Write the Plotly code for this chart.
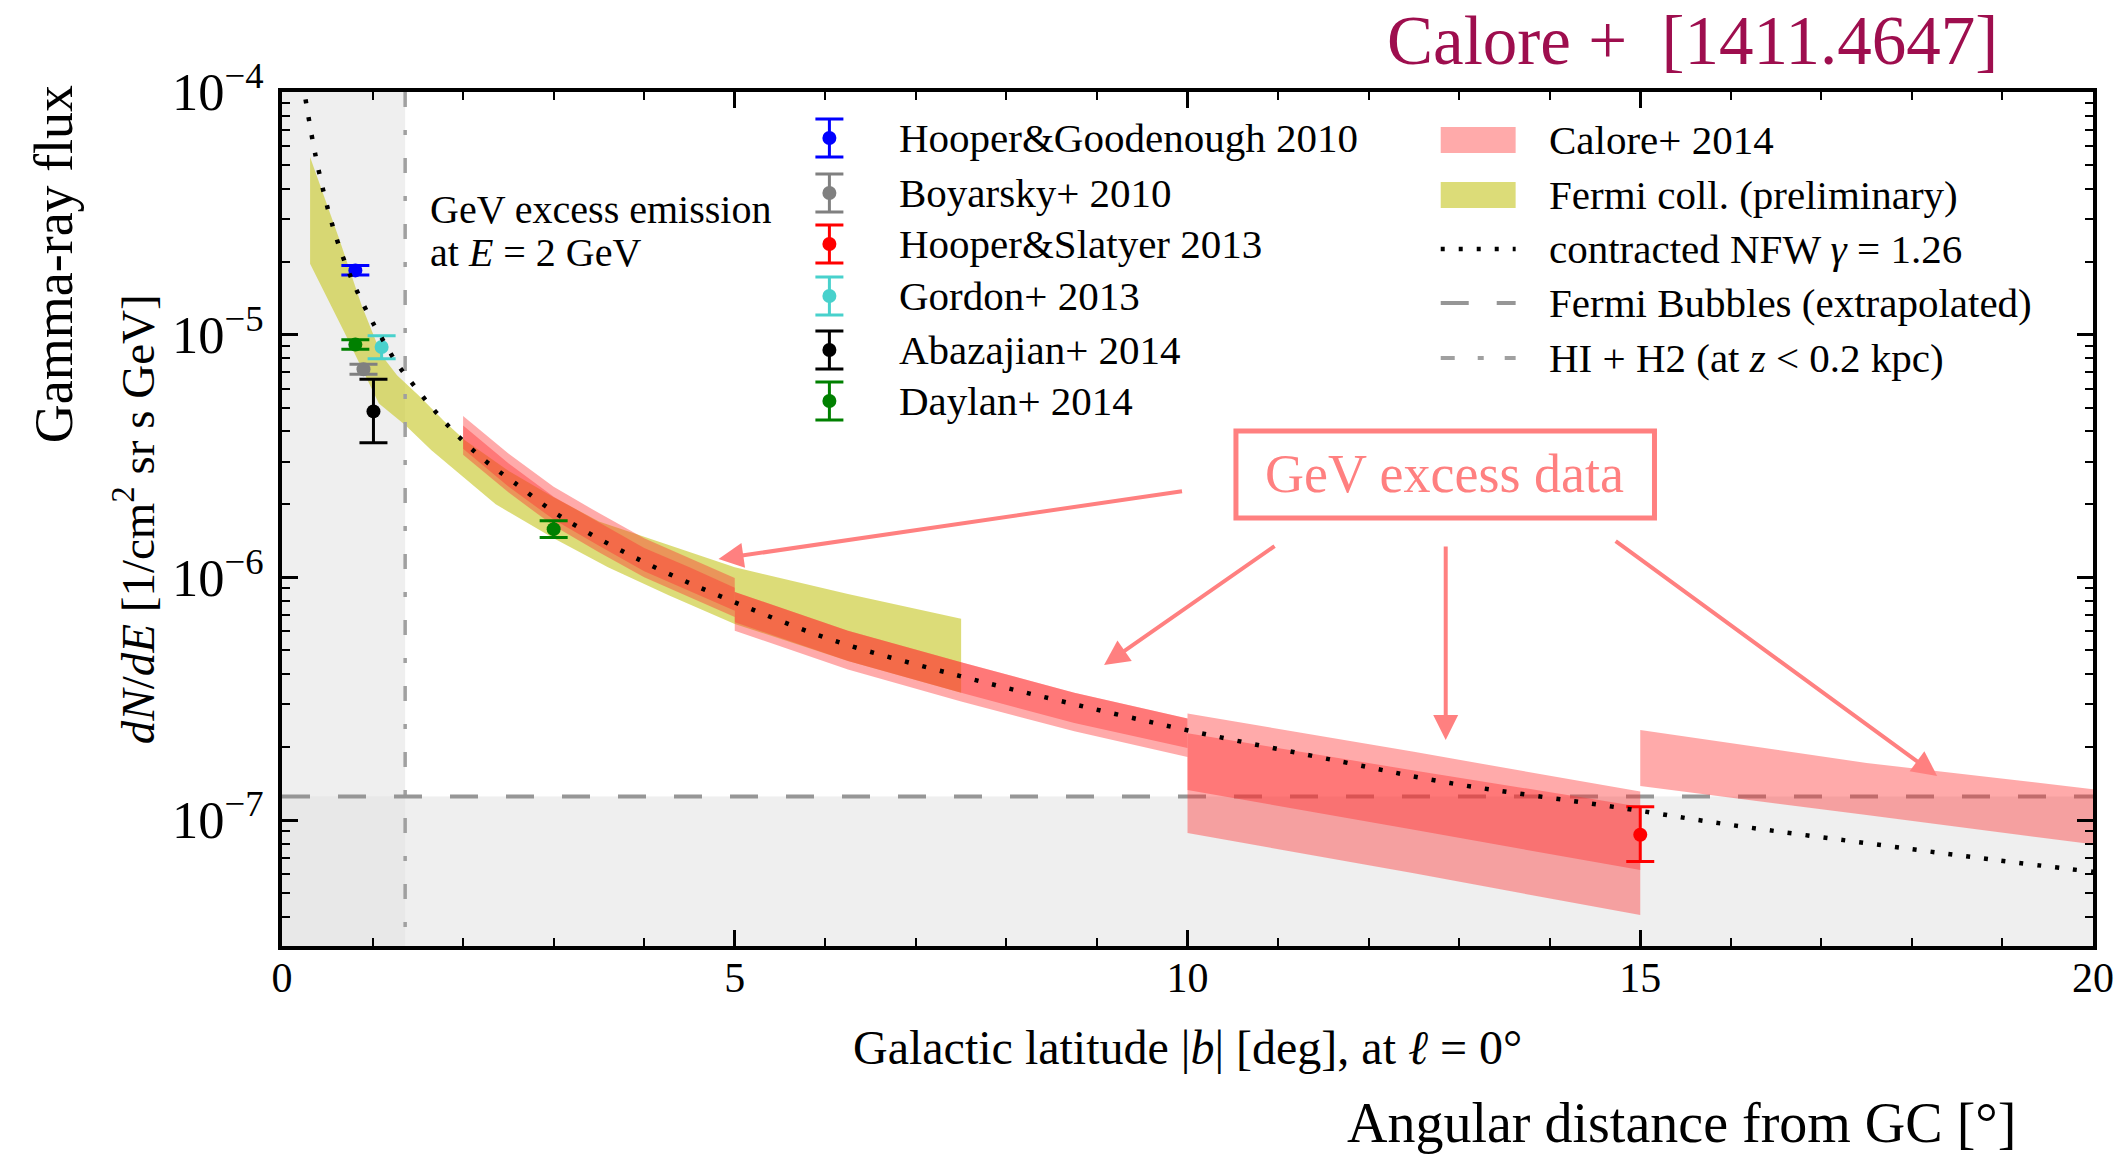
import plotly.graph_objects as go

# ---------------------------------------------------------------------------
# Data: GeV-excess latitude profile at E = 2 GeV (l = 0)
# ---------------------------------------------------------------------------

# contracted NFW profile, gamma = 1.26
nfw_lat = [0.26, 0.37, 0.51, 0.63, 0.78, 0.96, 1.06, 1.27, 1.39, 1.65, 1.93, 2.24,
           2.57, 3.08, 3.99, 4.95, 6.09, 7.49, 8.70, 10.1, 11.7, 12.9, 14.8, 16.0,
           17.7, 18.9, 20.0]
nfw_flux = [9.33e-5, 5.48e-5, 3.26e-5, 2.32e-5, 1.66e-5, 1.20e-5, 1.03e-5, 7.60e-6,
            6.64e-6, 5.04e-6, 3.87e-6, 3.03e-6, 2.45e-6, 1.78e-6, 1.16e-6, 8.04e-7,
            5.50e-7, 3.92e-7, 3.03e-7, 2.30e-7, 1.74e-7, 1.42e-7, 1.12e-7, 9.55e-8,
            7.85e-8, 6.86e-8, 6.12e-8]

# Fermi collaboration (preliminary) band
fermi_hi_lat = [0.31, 0.63, 0.88, 1.10, 1.27, 1.51, 1.80, 2.02, 2.5, 3.0, 3.5, 4.27,
                5.0, 6.25, 7.5]
fermi_hi = [5.40e-5, 2.49e-5, 1.32e-5, 8.22e-6, 6.81e-6, 5.62e-6, 4.37e-6, 3.67e-6,
            2.75e-6, 2.14e-6, 1.70e-6, 1.36e-6, 1.10e-6, 8.55e-7, 6.75e-7]
fermi_lo_lat = [0.31, 0.69, 1.07, 1.36, 1.65, 2.02, 2.36, 3.0, 3.6, 4.27, 5.0, 6.25, 7.5]
fermi_lo = [1.96e-5, 1.02e-5, 5.20e-6, 4.24e-6, 3.34e-6, 2.55e-6, 2.00e-6, 1.45e-6,
            1.10e-6, 8.43e-7, 6.43e-7, 4.52e-7, 3.35e-7]

# Calore+ 2014: two overlapping bands per latitude window
cal_2_5_lat = [2.0, 2.5, 3.0, 3.5, 4.0, 4.5, 5.0]
cal_2_5_n_hi = [4.62e-6, 3.24e-6, 2.36e-6, 1.84e-6, 1.45e-6, 1.20e-6, 9.93e-7]
cal_2_5_n_lo = [3.39e-6, 2.37e-6, 1.73e-6, 1.35e-6, 1.06e-6, 8.81e-7, 7.28e-7]
cal_2_5_s_hi = [4.22e-6, 2.95e-6, 2.15e-6, 1.68e-6, 1.32e-6, 1.10e-6, 9.06e-7]
cal_2_5_s_lo = [3.20e-6, 2.24e-6, 1.63e-6, 1.27e-6, 1.00e-6, 8.32e-7, 6.87e-7]

cal_5_10_lat = [5.0, 6.25, 7.5, 8.75, 10.0]
cal_5_10_n_hi = [8.71e-7, 6.03e-7, 4.47e-7, 3.35e-7, 2.62e-7]
cal_5_10_n_lo = [6.53e-7, 4.52e-7, 3.35e-7, 2.51e-7, 1.98e-7]
cal_5_10_s_hi = [8.71e-7, 6.03e-7, 4.47e-7, 3.35e-7, 2.62e-7]
cal_5_10_s_lo = [6.03e-7, 4.17e-7, 3.08e-7, 2.32e-7, 1.82e-7]

cal_10_15_lat = [10.0, 12.5, 15.0]
cal_10_15_n_hi = [2.75e-7, 1.91e-7, 1.31e-7]
cal_10_15_n_lo = [1.33e-7, 9.12e-8, 6.22e-8]
cal_10_15_s_hi = [2.28e-7, 1.60e-7, 1.135e-7]
cal_10_15_s_lo = [8.85e-8, 6.03e-8, 4.06e-8]

cal_15_20_lat = [15.0, 17.5, 20.0]
cal_15_20_hi = [2.35e-7, 1.72e-7, 1.34e-7]
cal_15_20_lo = [1.38e-7, 1.05e-7, 7.94e-8]

# Literature measurements (value, upper error, lower error)
hg10_lat, hg10_flux, hg10_up, hg10_dn = [0.81], [1.84e-5], [0.09e-5], [0.08e-5]
boy10_lat, boy10_flux, boy10_up, boy10_dn = [0.90], [7.2e-6], [0.35e-6], [0.33e-6]
hs13_lat, hs13_flux, hs13_up, hs13_dn = [15.0], [8.7e-8], [2.65e-8], [1.95e-8]
gor13_lat, gor13_flux, gor13_up, gor13_dn = [1.10], [8.9e-6], [1.0e-6], [0.94e-6]
aba14_lat, aba14_flux, aba14_up, aba14_dn = [1.01], [4.83e-6], [1.72e-6], [1.24e-6]
day14_lat, day14_flux, day14_up, day14_dn = [0.81, 3.0], [9.1e-6, 1.58e-6], [0.42e-6, 0.13e-6], [0.40e-6, 0.12e-6]

# Fermi Bubbles (extrapolated) level and HI + H2 latitude boundary
bubbles_flux = 1.25e-7
gas_lat = 1.36

x_range = [0, 20]
y_range_log = [-7.519, -4]

# ---------------------------------------------------------------------------
# Styling
# ---------------------------------------------------------------------------
W, H = 2126, 1156
L, R, T, B = 282, 2095, 92, 946
FONT = "Liberation Serif, Times New Roman, serif"
SALMON = "rgb(255,128,128)"
RED_FILL = "rgba(255,49,49,0.41)"
YELLOW_FILL = "rgba(205,205,63,0.70)"
GRAY_FILL = "rgba(227,227,227,0.5625)"
DOT = "4px,14px"
DASH = "28px,28px"
DASHDOT = "15px,23px,5px,23px"


def px(X, Y):
    """pixel position on the page -> paper coordinates"""
    return (X - L) / (R - L), (B - Y) / (B - T)


def band(lat_hi, hi, lat_lo, lo, color):
    return go.Scatter(x=list(lat_hi) + list(lat_lo)[::-1], y=list(hi) + list(lo)[::-1],
                      fill="toself", fillcolor=color, mode="lines", line=dict(width=0),
                      hoverinfo="skip")


fig = go.Figure()

# shaded regions: HI+H2 dominated latitudes, and below the Fermi Bubbles level
fig.add_trace(go.Scatter(x=[0, gas_lat, gas_lat, 0], y=[1e-9, 1e-9, 1e-3, 1e-3],
                         fill="toself", fillcolor=GRAY_FILL, mode="lines", line=dict(width=0)))
fig.add_trace(go.Scatter(x=[0, 20, 20, 0], y=[1e-9, 1e-9, bubbles_flux, bubbles_flux],
                         fill="toself", fillcolor=GRAY_FILL, mode="lines", line=dict(width=0)))

# Fermi coll. band
fig.add_trace(band(fermi_hi_lat, fermi_hi, fermi_lo_lat, fermi_lo, YELLOW_FILL))

# HI + H2 boundary and Fermi Bubbles level
fig.add_trace(go.Scatter(x=[gas_lat, gas_lat], y=[1e-4, 3.03e-8], mode="lines",
                         line=dict(color="rgb(160,160,160)", width=3.5, dash=DASHDOT)))
fig.add_trace(go.Scatter(x=[0, 20], y=[bubbles_flux, bubbles_flux], mode="lines",
                         line=dict(color="rgb(150,150,150)", width=4, dash=DASH)))

# Calore+ 2014 bands
fig.add_trace(band(cal_2_5_lat, cal_2_5_n_hi, cal_2_5_lat, cal_2_5_n_lo, RED_FILL))
fig.add_trace(band(cal_2_5_lat, cal_2_5_s_hi, cal_2_5_lat, cal_2_5_s_lo, RED_FILL))
fig.add_trace(band(cal_5_10_lat, cal_5_10_n_hi, cal_5_10_lat, cal_5_10_n_lo, RED_FILL))
fig.add_trace(band(cal_5_10_lat, cal_5_10_s_hi, cal_5_10_lat, cal_5_10_s_lo, RED_FILL))
fig.add_trace(band(cal_10_15_lat, cal_10_15_n_hi, cal_10_15_lat, cal_10_15_n_lo, RED_FILL))
fig.add_trace(band(cal_10_15_lat, cal_10_15_s_hi, cal_10_15_lat, cal_10_15_s_lo, RED_FILL))
fig.add_trace(band(cal_15_20_lat, cal_15_20_hi, cal_15_20_lat, cal_15_20_lo, RED_FILL))

# measurements
points = [
    ("Hooper&amp;Goodenough 2010", "#0000ff", hg10_lat, hg10_flux, hg10_up, hg10_dn),
    ("Boyarsky+ 2010", "#808080", boy10_lat, boy10_flux, boy10_up, boy10_dn),
    ("Hooper&amp;Slatyer 2013", "#ff0000", hs13_lat, hs13_flux, hs13_up, hs13_dn),
    ("Gordon+ 2013", "mediumturquoise", gor13_lat, gor13_flux, gor13_up, gor13_dn),
    ("Abazajian+ 2014", "#000000", aba14_lat, aba14_flux, aba14_up, aba14_dn),
    ("Daylan+ 2014", "#008000", day14_lat, day14_flux, day14_up, day14_dn),
]
for name, col, lat, flux, up, dn in points:
    fig.add_trace(go.Scatter(
        x=lat, y=flux, mode="markers", marker=dict(color=col, size=14),
        error_y=dict(type="data", symmetric=False, array=up, arrayminus=dn,
                     color=col, thickness=3, width=14)))

# contracted NFW
fig.add_trace(go.Scatter(x=nfw_lat, y=nfw_flux, mode="lines",
                         line=dict(color="black", width=4.5, dash=DOT, shape="spline")))

# ---------------------------------------------------------------------------
# Legends (drawn on an overlay axis spanning the plot area in [0, 1])
# ---------------------------------------------------------------------------
annotations = []
shapes = []

leg1_x, leg1_text_x = 830, 898
leg1_rows = [138, 193, 244, 296, 350, 401]
for (name, col, *_), row in zip(points, leg1_rows):
    xp, yp = px(leg1_x, row)
    fig.add_trace(go.Scatter(
        x=[xp], y=[yp], xaxis="x2", yaxis="y2", mode="markers",
        marker=dict(color=col, size=14),
        error_y=dict(type="constant", value=19 / (B - T), color=col, thickness=3, width=14)))
    tx, ty = px(leg1_text_x, row)
    annotations.append(dict(x=tx, y=ty, xref="paper", yref="paper", text=name,
                            showarrow=False, xanchor="left", yanchor="middle",
                            font=dict(size=41, family=FONT, color="black")))

leg2_x0, leg2_x1, leg2_text_x = 1442, 1517, 1548
leg2_rows = [140, 195, 249, 303, 358]
leg2_labels = ["Calore+ 2014", "Fermi coll. (preliminary)",
               "contracted NFW <i>γ</i> = 1.26", "Fermi Bubbles (extrapolated)",
               "HI + H2 (at <i>z</i> &lt; 0.2 kpc)"]
for lab, row in zip(leg2_labels, leg2_rows):
    tx, ty = px(leg2_text_x, row)
    annotations.append(dict(x=tx, y=ty, xref="paper", yref="paper", text=lab,
                            showarrow=False, xanchor="left", yanchor="middle",
                            font=dict(size=41, family=FONT, color="black")))

for row, col in zip(leg2_rows[:2], [RED_FILL, YELLOW_FILL]):
    x0, y0 = px(leg2_x0, row + 13)
    x1, y1 = px(leg2_x1, row - 13)
    shapes.append(dict(type="rect", xref="paper", yref="paper", x0=x0, x1=x1, y0=y0, y1=y1,
                       fillcolor=col, line=dict(width=0)))

for row, col, w, dash in [(leg2_rows[2], "black", 4.5, DOT),
                          (leg2_rows[3], "rgb(150,150,150)", 4, DASH),
                          (leg2_rows[4], "rgb(160,160,160)", 4, "14px,23px,6px,21px")]:
    x0, yy = px(leg2_x0, row)
    x1, _ = px(leg2_x1, row)
    fig.add_trace(go.Scatter(x=[x0, x1], y=[yy, yy], xaxis="x2", yaxis="y2", mode="lines",
                             line=dict(color=col, width=w, dash=dash)))

# ---------------------------------------------------------------------------
# Text and call-outs
# ---------------------------------------------------------------------------
def text(X, Y, s, size, color="black", xanchor="left", angle=0):
    xp, yp = px(X, Y)
    annotations.append(dict(x=xp, y=yp, xref="paper", yref="paper", text=s, showarrow=False,
                            xanchor=xanchor, yanchor="middle", textangle=angle,
                            font=dict(size=size, family=FONT, color=color)))


text(428, 209, "GeV excess emission", 40)
text(428, 252, "at <i>E</i> = 2 GeV", 40)
text(1189, 1047, "Galactic latitude |<i>b</i>| [deg], at <i>ℓ</i> = 0°", 48, xanchor="center")
text(54, 264, "Gamma-ray flux", 54, xanchor="center", angle=-90)
text(134, 519, "<i>dN</i>/<i>dE</i> [1/cm<sup>2</sup> sr s GeV]", 47, xanchor="center", angle=-90)
text(1386, 41, "Calore +&nbsp; [1411.4647]", 69, color="#9e0e4e")
text(1346, 1123, "Angular distance from GC [°]", 56)
text(1446, 474, "GeV excess data", 54, color=SALMON, xanchor="center")

bx0, by0 = px(1237, 518)
bx1, by1 = px(1656, 431)
shapes.append(dict(type="rect", xref="paper", yref="paper", x0=bx0, x1=bx1, y0=by0, y1=by1,
                   line=dict(color=SALMON, width=5), fillcolor="rgba(0,0,0,0)"))

# arrows: (tip X, tip Y, tail X, tail Y) in page pixels
for tipX, tipY, tailX, tailY in [(719, 559, 1184, 491), (1105, 665, 1277, 545),
                                 (1447, 740, 1447, 545), (1939, 776, 1616, 540)]:
    xp, yp = px(tipX, tipY)
    annotations.append(dict(x=xp, y=yp, xref="paper", yref="paper", text="",
                            showarrow=True, arrowhead=2, arrowsize=1.25, arrowwidth=4,
                            arrowcolor=SALMON, standoff=0,
                            ax=tailX - tipX, ay=tailY - tipY, axref="pixel", ayref="pixel"))

axis_common = dict(ticks="inside", ticklen=16, tickwidth=2.5, tickcolor="black",
                   showline=True, linewidth=4, linecolor="black", mirror="allticks",
                   showgrid=False, zeroline=False,
                   tickfont=dict(size=42, family=FONT, color="black"))

fig.update_layout(
    width=W, height=H,
    margin=dict(l=L, r=W - R, t=T, b=H - B),
    showlegend=False,
    plot_bgcolor="white", paper_bgcolor="white",
    font=dict(family=FONT, color="black"),
    xaxis=dict(range=x_range, tickmode="linear", tick0=0, dtick=5,
               minor=dict(ticks="inside", ticklen=8, tickwidth=2, dtick=1, tickcolor="black"),
               ticklabelstandoff=-8, **axis_common),
    yaxis=dict(type="log", range=y_range_log, dtick=1, exponentformat="power",
               minor=dict(ticks="inside", ticklen=8, tickwidth=2, dtick="D1", tickcolor="black"),
               ticklabelstandoff=6, **axis_common),
    xaxis2=dict(overlaying="x", range=[0, 1], visible=False, anchor="y2"),
    yaxis2=dict(overlaying="y", range=[0, 1], visible=False, anchor="x2"),
    annotations=annotations,
    shapes=shapes,
)

fig.write_html("out.html")
